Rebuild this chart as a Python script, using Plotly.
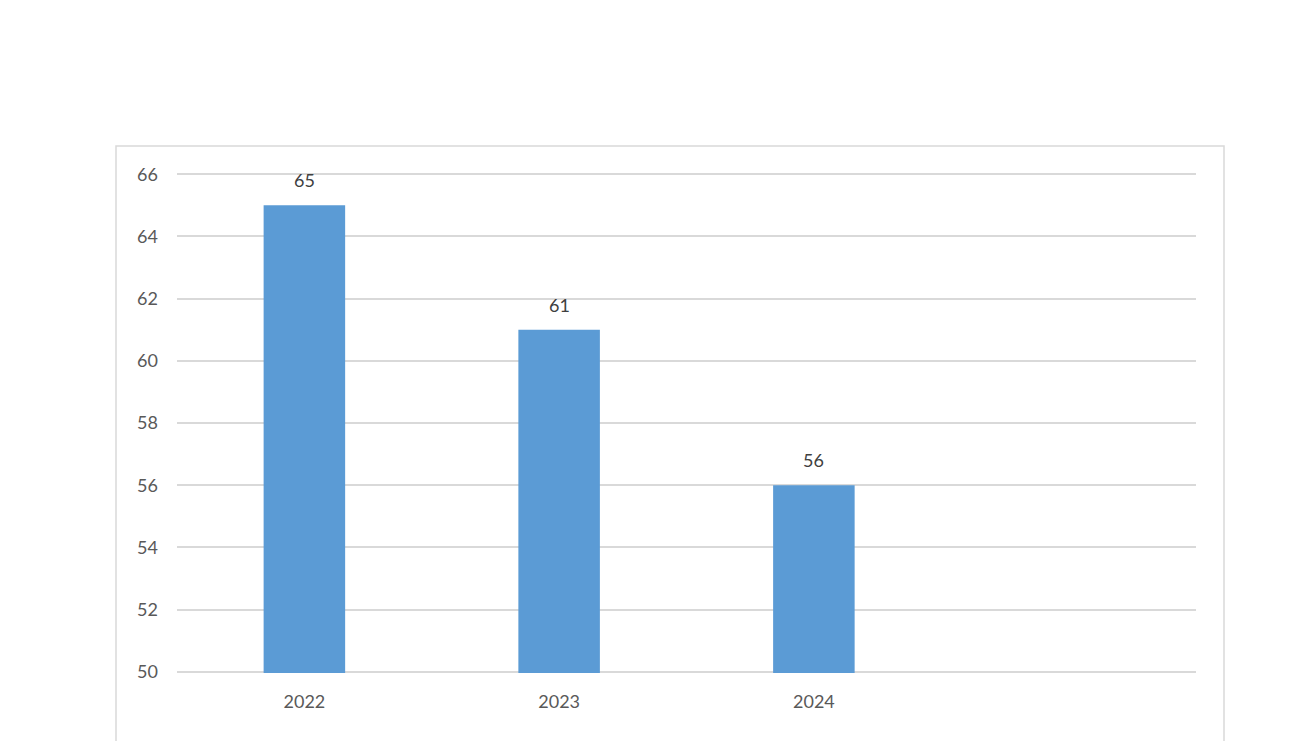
import plotly.graph_objects as go

years = ["2022", "2023", "2024"]
values = [65, 61, 56]

fig = go.Figure()
fig.add_trace(go.Bar(x=years, y=values, width=0.32,
                     marker=dict(color="#5b9bd5", line=dict(width=0)),
                     hoverinfo="x+y"))

# data labels above the bars (x given as category index)
for i, v in enumerate(values):
    fig.add_annotation(x=i, y=v, text=str(v), showarrow=False, yshift=25,
                       font=dict(size=18, color="#404040", family="Lato"))

# outer chart border
fig.add_shape(type="rect", xref="paper", yref="paper",
              x0=(116 - 177) / 1019, x1=(1224 - 177) / 1019,
              y0=-0.2, y1=(673 - 146) / 500,
              line=dict(color="#d9d9d9", width=1.5), fillcolor="rgba(0,0,0,0)",
              layer="below")

fig.update_layout(
    width=1300, height=741,
    margin=dict(l=169, r=112, t=165, b=76),
    paper_bgcolor="white", plot_bgcolor="white",
    showlegend=False,
    font=dict(family="Lato", size=18, color="#595959"),
    xaxis=dict(type="category", categoryorder="array", categoryarray=years,
               range=[-0.5, 3.5], showgrid=False, zeroline=False,
               showline=False, ticks="", ticklabelstandoff=16,
               fixedrange=True),
    yaxis=dict(range=[49.96, 66.04], dtick=2, tick0=50, showgrid=True,
               gridcolor="#d9d9d9", gridwidth=2, zeroline=False,
               showline=False, ticks="", ticklabelstandoff=18,
               fixedrange=True),
)

fig.write_html("out.html")
